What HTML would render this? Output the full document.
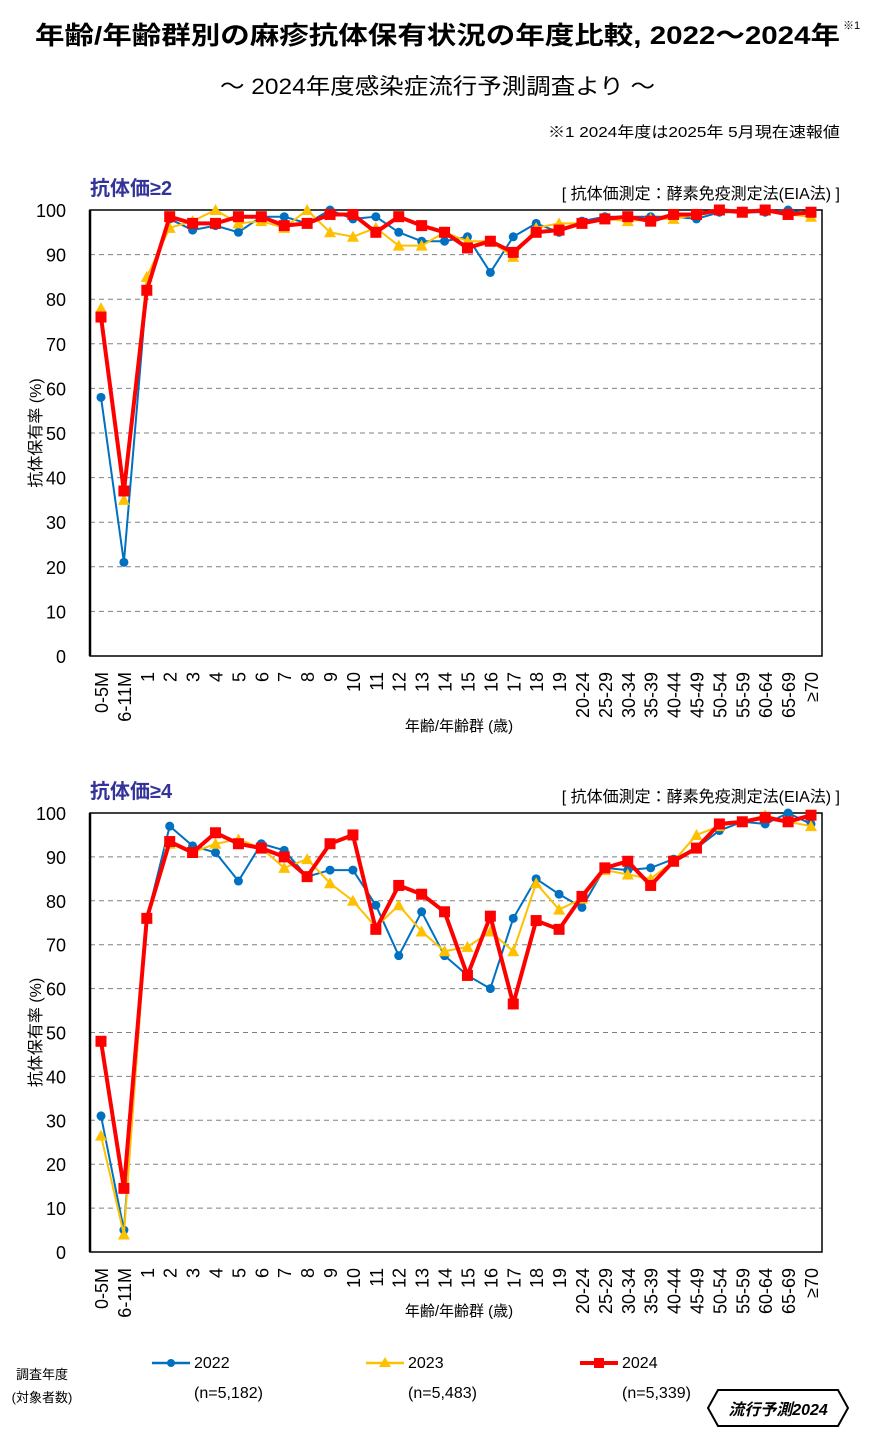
<!DOCTYPE html>
<html><head><meta charset="utf-8">
<style>
body{margin:0;background:#fff;width:873px;height:1430px;overflow:hidden;font-family:"Liberation Sans","Noto Sans CJK JP",sans-serif;}
svg text{font-family:"Liberation Sans","Noto Sans CJK JP",sans-serif;}
</style></head>
<body>
<svg id="s" width="873" height="1430" xmlns="http://www.w3.org/2000/svg">
<text x="35" y="44" font-size="25" font-weight="bold" fill="#000" textLength="805" lengthAdjust="spacingAndGlyphs">年齢/年齢群別の麻疹抗体保有状況の年度比較, 2022～2024年</text>
<text x="843" y="29" font-size="11" fill="#000">※1</text>
<text x="220" y="94" font-size="22" fill="#000" textLength="435" lengthAdjust="spacingAndGlyphs">～ 2024年度感染症流行予測調査より ～</text>
<text x="548" y="137" font-size="15" fill="#000" textLength="292" lengthAdjust="spacingAndGlyphs">※1  2024年度は2025年 5月現在速報値</text>
<g id="c1"></g>
<g id="c2"></g>
<g>
<text x="42" y="1379" text-anchor="middle" font-size="13">調査年度</text>
<text x="42" y="1402" text-anchor="middle" font-size="13">(対象者数)</text>
<g><line x1="152" y1="1363" x2="190" y2="1363" stroke="#0070C0" stroke-width="2.5"/><circle cx="171" cy="1363" r="4" fill="#0070C0"/><text x="194" y="1368" font-size="16">2022</text><text x="194" y="1398" font-size="16">(n=5,182)</text></g>
<g><line x1="366" y1="1363" x2="404" y2="1363" stroke="#FFC000" stroke-width="2.5"/><polygon points="385,1357 391,1367 379,1367" fill="#FFC000"/><text x="408" y="1368" font-size="16">2023</text><text x="408" y="1398" font-size="16">(n=5,483)</text></g>
<g><line x1="580" y1="1363" x2="618" y2="1363" stroke="#FF0000" stroke-width="4"/><rect x="594" y="1358" width="10" height="10" fill="#FF0000"/><text x="622" y="1368" font-size="16">2024</text><text x="622" y="1398" font-size="16">(n=5,339)</text></g>
</g>
<g><polygon points="718,1390 838,1390 848,1408 838,1426 718,1426 708,1408" fill="#fff" stroke="#000" stroke-width="2"/><text x="778" y="1415" text-anchor="middle" font-size="16" font-weight="bold" font-style="italic">流行予測2024</text></g>
</svg>
<script>
const categories=["0-5M","6-11M","1","2","3","4","5","6","7","8","9","10","11","12","13","14","15","16","17","18","19","20-24","25-29","30-34","35-39","40-44","45-49","50-54","55-59","60-64","65-69","≥70"];
const yTicks=[0,10,20,30,40,50,60,70,80,90,100];
const c1_2022=[58,21,82,98,95.5,96.5,95,98.5,98.5,97,100,98,98.5,95,93,93,94,86,94,97,95,97.5,98.5,98.5,98.5,98.5,98,99.5,99.5,99.5,100,99];
const c1_2023=[78,35,85,96,97.5,100,97,97.5,96,100,95,94,96,92,92,95,93,93,89.5,96,97,97,98,97.5,98,98,99,100,99.5,100,99,98.5];
const c1_2024=[76,37,82,98.5,97,97,98.5,98.5,96.5,97,99,99,95,98.5,96.5,95,91.5,93,90.5,95,95.5,97,98,98.5,97.5,99,99,100,99.5,100,99,99.5];
const c2_2022=[31,5,76,97,92.5,91,84.5,93,91.5,85.5,87,87,79,67.5,77.5,67.5,63,60,76,85,81.5,78.5,87.5,87,87.5,89.5,92,96,98,97.5,100,97.5];
const c2_2023=[26.5,4,76,93,91,93,94,92,87.5,89.5,84,80,74,79,73,68.5,69.5,73,68.5,84,78,80.5,87,86,85,89,95,97,98,99.5,98,97];
const c2_2024=[48,14.5,76,93.5,91,95.5,93,92,90,85.5,93,95,73.5,83.5,81.5,77.5,63,76.5,56.5,75.5,73.5,81,87.5,89,83.5,89,92,97.5,98,99,98,99.5];
const NS="http://www.w3.org/2000/svg";
function mk(tag,attrs,parent){const e=document.createElementNS(NS,tag);for(const k in attrs)e.setAttribute(k,attrs[k]);parent.appendChild(e);return e;}
function chart(g,top,bottom,title,xlabelY,series){
  const L=90,R=822;
  const x=i=>101+i*(811-101)/(categories.length-1);
  const y=v=>bottom-(v/100)*(bottom-top);
  let t=mk('text',{x:90,y:top-15,'font-size':20,'font-weight':'bold',fill:'#333399'},g);t.textContent=title;
  
  
  t=mk('text',{x:840,y:top-11,'font-size':16,'text-anchor':'end'},g);t.textContent='[ 抗体価測定：酵素免疫測定法(EIA法) ]';
  
  
  yTicks.forEach(v=>{
    if(v>0&&v<100){const l=mk('line',{x1:L,x2:R,y1:y(v),y2:y(v),stroke:'#808080','stroke-dasharray':'5,4','stroke-width':1},g);
    
    }
    const tt=mk('text',{x:66,y:y(v)+7,'font-size':18,'text-anchor':'end'},g);tt.textContent=v;
    
    
  });
  const fr=mk('rect',{x:L,y:top,width:R-L,height:bottom-top,fill:'none',stroke:'#000','stroke-width':1.5},g);
  
  
  mk('line',{x1:L,x2:L,y1:top,y2:bottom,stroke:'#000','stroke-width':2.5},g);
  categories.forEach((c,i)=>{
    const tt=mk('text',{x:0,y:0,'font-size':18,'text-anchor':'end',transform:`translate(${x(i)+7},${bottom+16}) rotate(-90)`},g);tt.textContent=c;
    
    
  });
  t=mk('text',{x:459,y:xlabelY,'font-size':15,'text-anchor':'middle'},g);t.textContent='年齢/年齢群 (歳)';
  
  
  const mid=(top+bottom)/2;
  t=mk('text',{x:0,y:0,'font-size':16,'text-anchor':'middle',transform:`translate(41,${mid}) rotate(-90)`},g);t.textContent='抗体保有率 (%)';
  
  
  series.forEach(s=>{
    const sg=mk('g',{},g);
    
    
    const pl=mk('polyline',{points:s.data.map((v,i)=>x(i)+','+y(v)).join(' '),fill:'none',stroke:s.color,'stroke-width':s.w,'stroke-linejoin':'round'},sg);
    
    
    s.data.forEach((v,i)=>{
      let m;const cx=x(i),cy=y(v);
      if(s.mark==='c')m=mk('circle',{cx:cx,cy:cy,r:4.5,fill:s.color},sg);
      else if(s.mark==='t')m=mk('polygon',{points:`${cx},${cy-6} ${cx+6},${cy+5} ${cx-6},${cy+5}`,fill:s.color},sg);
      else m=mk('rect',{x:cx-5.5,y:cy-5.5,width:11,height:11,fill:s.color},sg);
      
      
    });
  });
}
chart(document.getElementById('c1'),210,656,'抗体価≥2',731,[
 {name:'2022',data:c1_2022,color:'#0070C0',w:2,mark:'c'},
 {name:'2023',data:c1_2023,color:'#FFC000',w:2,mark:'t'},
 {name:'2024',data:c1_2024,color:'#FF0000',w:4,mark:'s'}]);
chart(document.getElementById('c2'),813,1252,'抗体価≥4',1316,[
 {name:'2022',data:c2_2022,color:'#0070C0',w:2,mark:'c'},
 {name:'2023',data:c2_2023,color:'#FFC000',w:2,mark:'t'},
 {name:'2024',data:c2_2024,color:'#FF0000',w:4,mark:'s'}]);
</script>
</body></html>
